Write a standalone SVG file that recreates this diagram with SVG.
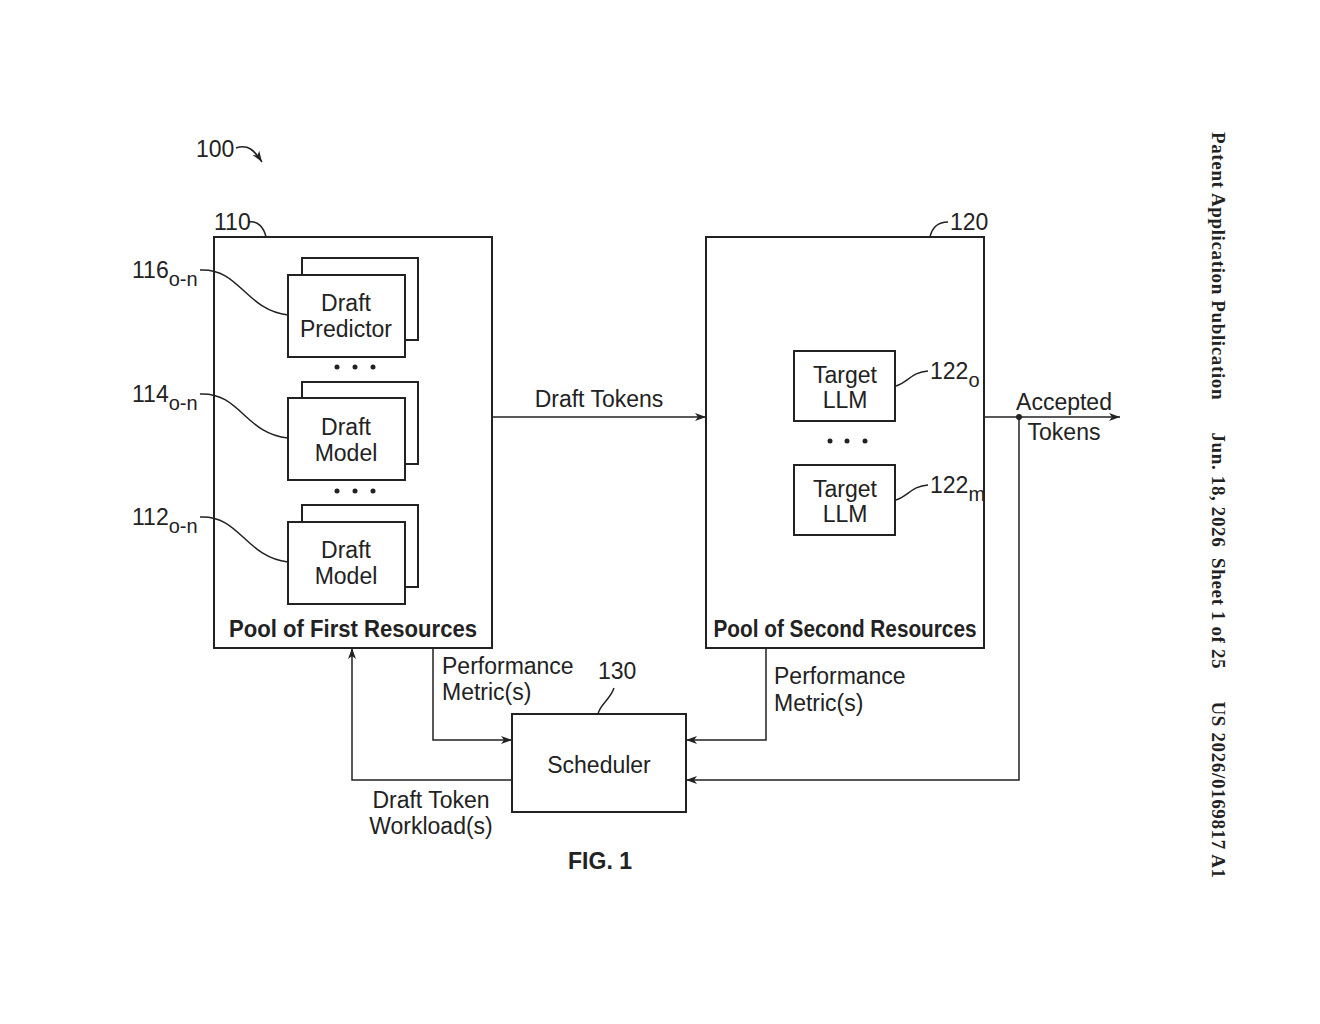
<svg xmlns="http://www.w3.org/2000/svg" width="1320" height="1024" viewBox="0 0 1320 1024">
<defs>
<marker id="ah" markerWidth="12" markerHeight="10" refX="11" refY="5" orient="auto" markerUnits="userSpaceOnUse"><path d="M0,1 L11,5 L0,9 L3,5 Z" fill="#222"/></marker>
</defs>
<style>
.b{fill:#fff;stroke:#222;stroke-width:2}
.l{fill:none;stroke:#222;stroke-width:1.5}
.t{font-family:"Liberation Sans",Arial,sans-serif;font-size:23px;fill:#222;text-anchor:middle}
.s{font-family:"Liberation Sans",Arial,sans-serif;font-size:23px;fill:#222}
.bd{font-family:"Liberation Sans",Arial,sans-serif;font-size:23px;font-weight:bold;fill:#222;text-anchor:middle}
</style>
<rect width="1320" height="1024" fill="#fff"/>
<text class="s" x="196" y="157">100</text>
<path class="l" d="M236,148 C248,144 254,150 262,162" marker-end="url(#ah)"/>
<g id="pool1">
<rect class="b" x="214" y="237" width="278" height="411"/>
<text class="bd" x="353" y="637" textLength="248" lengthAdjust="spacingAndGlyphs">Pool of First Resources</text>
<text class="s" x="214" y="230">110</text>
<path class="l" d="M248,222 C258,220 264,228 266,237"/>
</g>
<g id="draftPredictor">
<rect class="b" x="302" y="258" width="116" height="82"/>
<rect class="b" x="288" y="275" width="117" height="82"/>
<text class="t" x="346" y="311">Draft</text><text class="t" x="346" y="337">Predictor</text>
<text class="s" x="132" y="278">116<tspan font-size="20" dy="8">o-n</tspan></text>
<path class="l" d="M200,270 C240,268 245,310 288,315"/>
</g>
<g id="dots1" fill="#222"><circle cx="337" cy="367" r="2.5"/><circle cx="355" cy="367" r="2.5"/><circle cx="373" cy="367" r="2.5"/></g>
<g id="draftModel1">
<rect class="b" x="302" y="382" width="116" height="82"/>
<rect class="b" x="288" y="398" width="117" height="82"/>
<text class="t" x="346" y="435">Draft</text><text class="t" x="346" y="461">Model</text>
<text class="s" x="132" y="402">114<tspan font-size="20" dy="8">o-n</tspan></text>
<path class="l" d="M200,394 C240,392 245,434 288,438"/>
</g>
<g id="dots2" fill="#222"><circle cx="337" cy="491" r="2.5"/><circle cx="355" cy="491" r="2.5"/><circle cx="373" cy="491" r="2.5"/></g>
<g id="draftModel2">
<rect class="b" x="302" y="505" width="116" height="82"/>
<rect class="b" x="288" y="522" width="117" height="82"/>
<text class="t" x="346" y="558">Draft</text><text class="t" x="346" y="584">Model</text>
<text class="s" x="132" y="525">112<tspan font-size="20" dy="8">o-n</tspan></text>
<path class="l" d="M200,517 C240,515 245,557 288,562"/>
</g>
<g id="pool2">
<rect class="b" x="706" y="237" width="278" height="411"/>
<text class="bd" x="845" y="637" textLength="263" lengthAdjust="spacingAndGlyphs">Pool of Second Resources</text>
<text class="s" x="950" y="230">120</text>
<path class="l" d="M948,222 C938,222 932,228 930,237"/>
</g>
<g id="llm1">
<rect class="b" x="794" y="351" width="101" height="70"/>
<text class="t" x="845" y="383">Target</text><text class="t" x="845" y="408">LLM</text>
<text class="s" x="930" y="379">122<tspan font-size="20" dy="8">o</tspan></text>
<path class="l" d="M896,386 C908,382 912,372 928,371"/>
</g>
<g id="dots3" fill="#222"><circle cx="830" cy="441" r="2.5"/><circle cx="847" cy="441" r="2.5"/><circle cx="865" cy="441" r="2.5"/></g>
<g id="llm2">
<rect class="b" x="794" y="465" width="101" height="70"/>
<text class="t" x="845" y="497">Target</text><text class="t" x="845" y="522">LLM</text>
<text class="s" x="930" y="493">122<tspan font-size="20" dy="8">m</tspan></text>
<path class="l" d="M896,500 C908,496 912,486 928,485"/>
</g>
<g id="scheduler">
<rect class="b" x="512" y="714" width="174" height="98"/>
<text class="t" x="599" y="773">Scheduler</text>
<text class="s" x="598" y="679">130</text>
<path class="l" d="M614,688 C610,700 600,704 598,714"/>
</g>
<g id="connectors">
<path class="l" d="M492,417 H706" marker-end="url(#ah)"/>
<path class="l" d="M984,417 H1120" marker-end="url(#ah)"/>
<circle cx="1019" cy="417" r="3" fill="#222"/>
<path class="l" d="M1019,417 V780 H686" marker-end="url(#ah)"/>
<path class="l" d="M433,648 V740 H512" marker-end="url(#ah)"/>
<path class="l" d="M766,648 V740 H686" marker-end="url(#ah)"/>
<path class="l" d="M512,780 H352 V648" marker-end="url(#ah)"/>
</g>
<g id="labels">
<text class="t" x="599" y="407">Draft Tokens</text>
<text class="t" x="1064" y="410">Accepted</text><text class="t" x="1064" y="440">Tokens</text>
<text class="s" x="442" y="674">Performance</text><text class="s" x="442" y="700">Metric(s)</text>
<text class="s" x="774" y="684">Performance</text><text class="s" x="774" y="711">Metric(s)</text>
<text class="t" x="431" y="808">Draft Token</text><text class="t" x="431" y="834">Workload(s)</text>
<text class="bd" x="600" y="869">FIG. 1</text>
</g>
<text transform="translate(1212,132) rotate(90)" font-family="Liberation Serif,serif" font-weight="bold" font-size="19" fill="#222" xml:space="preserve" textLength="746">Patent Application Publication      Jun. 18, 2026  Sheet 1 of 25      US 2026/0169817 A1</text>
</svg>
